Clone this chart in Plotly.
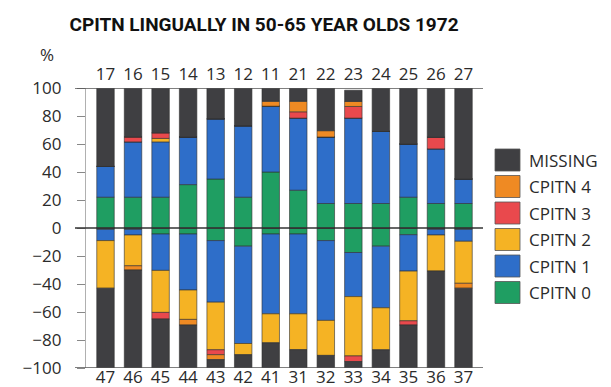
import plotly.graph_objects as go

# Tooth numbers: upper jaw (drawn above zero) and lower jaw (drawn below zero)
upper_teeth = ["17", "16", "15", "14", "13", "12", "11", "21", "22", "23", "24", "25", "26", "27"]
lower_teeth = ["47", "46", "45", "44", "43", "42", "41", "31", "32", "33", "34", "35", "36", "37"]

# Percentages per score, upper jaw
upper_c0 = [22, 22, 22, 31, 35, 22, 40, 27, 17.5, 17.5, 17.5, 22, 17.5, 17.5]
upper_c1 = [22, 39.5, 39.5, 34, 43, 51, 47, 51.5, 47.5, 61, 51.5, 38, 39, 17.5]
upper_c2 = [0, 0, 2.5, 0, 0, 0, 0, 0, 0, 0, 0, 0, 0, 0]
upper_c3 = [0, 3.5, 4, 0, 0, 0, 0, 4.5, 0, 8.3, 0, 0, 8.3, 0]
upper_c4 = [0, 0, 0, 0, 0, 0, 3.5, 7.5, 4.5, 3.6, 0, 0, 0, 0]
upper_missing = [56, 35, 32, 35, 22, 27, 9.5, 9.5, 30.5, 8, 31, 40, 35.2, 65]

# Percentages per score, lower jaw
lower_c0 = [1, 1, 4.3, 4.3, 9, 13, 4.3, 4.3, 9, 17.5, 13, 4.8, 1, 1]
lower_c1 = [8, 4, 26, 40, 44, 69.5, 57, 57, 57, 31.5, 44, 26, 4, 8.5]
lower_c2 = [34, 22, 30, 21, 34, 8, 20.7, 25.6, 25, 42.4, 30, 35.5, 25.7, 30]
lower_c3 = [0, 0, 4.7, 0, 3.5, 0, 0, 0, 0, 4, 0, 3, 0, 0]
lower_c4 = [0, 3, 0, 4, 3.5, 0, 0, 0, 0, 0, 0, 0, 0, 3.5]
lower_missing = [57, 70, 35, 30.7, 6, 9.5, 18, 13.1, 9, 4.6, 13, 30.7, 69.3, 57]

series_names = ["CPITN 0", "CPITN 1", "CPITN 2", "CPITN 3", "CPITN 4", "MISSING"]
series_colors = ["#1f9e62", "#2e6ec9", "#f5b324", "#e9494d", "#ef8a23", "#3f3f42"]

upper_series = [upper_c0, upper_c1, upper_c2, upper_c3, upper_c4, upper_missing]
lower_series = [lower_c0, lower_c1, lower_c2, lower_c3, lower_c4, lower_missing]

FONT = "Open Sans"
TEXT_COLOR = "#2b2b2b"
positions = list(range(len(upper_teeth)))

fig = go.Figure()

# Upper jaw stacks upward on the top x axis
for name, color, vals in zip(series_names, series_colors, upper_series):
    fig.add_trace(go.Bar(
        x=positions, y=vals, name=name, xaxis="x2", yaxis="y",
        marker=dict(color=color, line=dict(color="#2f2f2f", width=0.6)),
        showlegend=False, hoverinfo="skip",
    ))

# Lower jaw stacks downward on the bottom x axis
for name, color, vals in zip(series_names, series_colors, lower_series):
    fig.add_trace(go.Bar(
        x=positions, y=[-v for v in vals], name=name, xaxis="x", yaxis="y",
        marker=dict(color=color, line=dict(color="#2f2f2f", width=0.6)),
        showlegend=False, hoverinfo="skip",
    ))

W, H = 611, 387
L, R, T, B = 86, 128, 88, 19
plot_w = W - L - R
plot_h = H - T - B
xrange = [-0.708, len(positions) - 1 + 0.708]


def px_x(px):
    return (px - L) / plot_w


def px_y(py):
    return (H - B - py) / plot_h


shapes = []
# Horizontal rules at 100, 0 and -100
for yv, col, w in [(100, "#555555", 1.3), (0, "#333333", 1.6), (-100, "#555555", 1.3)]:
    shapes.append(dict(type="line", xref="paper", yref="y", x0=px_x(75), x1=1.0,
                       y0=yv, y1=yv, line=dict(color=col, width=w), layer="above"))

annotations = [
    dict(text="%", xref="paper", yref="paper", x=px_x(47), y=px_y(55),
         showarrow=False, xanchor="center", yanchor="middle",
         font=dict(family=FONT, size=17, color=TEXT_COLOR)),
]

# Legend: large swatches, MISSING at the top down to CPITN 0
legend_centers = [160, 186.5, 213, 239.5, 266, 292.5]
for (name, color), cy in zip(list(zip(series_names, series_colors))[::-1], legend_centers):
    shapes.append(dict(type="rect", xref="paper", yref="paper",
                       x0=px_x(495), x1=px_x(520), y0=px_y(cy + 11), y1=px_y(cy - 11),
                       fillcolor=color, line=dict(color="#555555", width=0.8)))
    annotations.append(dict(text=name, xref="paper", yref="paper",
                            x=px_x(527), y=px_y(cy), showarrow=False,
                            xanchor="left", yanchor="middle",
                            font=dict(family=FONT, size=17, color=TEXT_COLOR)))

fig.update_layout(
    width=W, height=H,
    margin=dict(l=L, r=R, t=T, b=B, pad=0),
    paper_bgcolor="white", plot_bgcolor="white",
    barmode="relative", bargap=0.365,
    title=dict(text="<b>CPITN LINGUALLY IN 50-65 YEAR OLDS 1972</b>",
               x=264 / W, y=1 - 24 / H, xanchor="center", yanchor="middle",
               font=dict(family="Liberation Sans Narrow, Roboto", size=19, color="#111111")),
    xaxis=dict(range=xrange, tickvals=positions, ticktext=lower_teeth,
               showgrid=False, zeroline=False, showline=False, ticks="",
               automargin=False, ticklabelstandoff=-3,
               tickfont=dict(family=FONT, size=17, color=TEXT_COLOR)),
    xaxis2=dict(range=xrange, tickvals=positions, ticktext=upper_teeth,
                overlaying="x", side="top", anchor="y",
                showgrid=False, zeroline=False, showline=False, ticks="",
                automargin=False, ticklabelstandoff=4,
                tickfont=dict(family=FONT, size=17, color=TEXT_COLOR)),
    yaxis=dict(range=[-100, 100], tickvals=list(range(-100, 101, 20)),
               showgrid=False, zeroline=False, showline=True,
               linecolor="#b0b0b0", linewidth=1.2,
               ticks="outside", ticklen=8, tickcolor="#888888", tickwidth=1.2,
               ticklabelstandoff=12, automargin=False,
               tickfont=dict(family=FONT, size=17, color=TEXT_COLOR)),
    shapes=shapes,
    annotations=annotations,
)

fig.write_html("out.html")
